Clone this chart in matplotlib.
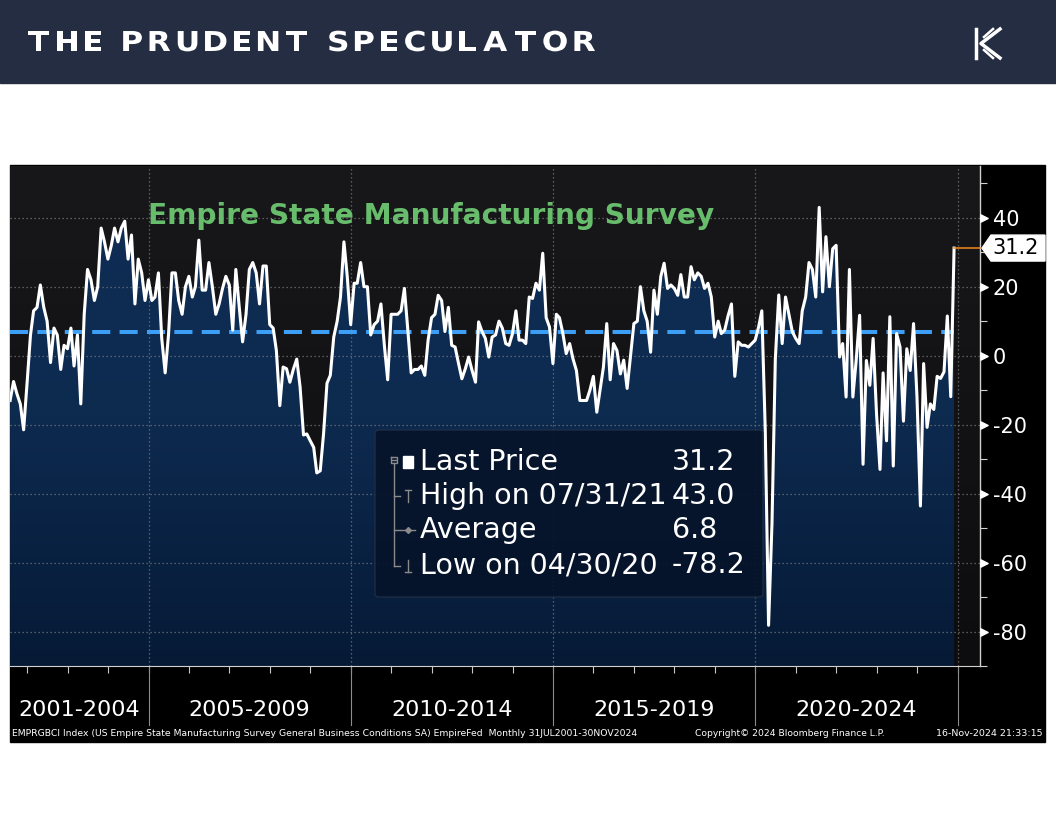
import numpy as np
import pandas as pd
import matplotlib
matplotlib.use("Agg")
import matplotlib.pyplot as plt
import matplotlib.dates as mdates
from matplotlib.patches import Rectangle, Polygon, FancyBboxPatch, PathPatch
from matplotlib.lines import Line2D
from matplotlib.colors import LinearSegmentedColormap
from matplotlib.transforms import blended_transform_factory, Affine2D
from matplotlib.font_manager import FontProperties
from matplotlib.textpath import TextPath

plt.rcParams['axes.unicode_minus'] = False
plt.rcParams['font.family'] = 'DejaVu Sans'

# Empire State general business conditions, monthly Jul 2001 .. Nov 2024
index_values = [
    -13, -7.5, -11, -14, -21.5, -8, 6, 13, 14, 20.5, 14, 10,             # 2001-07 .. 2002-06
    -2, 8, 6, -4, 3, 2, 8, -3, 6, -14, 12, 25,                          # 2002-07 .. 2003-06
    22, 16, 20, 37, 33, 28, 32, 37, 33, 37, 39, 28,                     # 2003-07 .. 2004-06
    35, 15, 28, 24, 16, 22, 16, 17, 24, 5, -5, 6,                       # 2004-07 .. 2005-06
    24, 24, 16, 12, 20, 23, 17, 20, 33.5, 19, 19, 27,                   # 2005-07 .. 2006-06
    20, 12, 15, 19.5, 23, 20.5, 7.4, 25, 14, 4, 12, 25,                 # 2006-07 .. 2007-06
    27, 24, 15, 26, 26, 9, 8, 1.5, -14.5, -3.3, -3.8, -7.7,             # 2007-07 .. 2008-06
    -4, -1, -9, -23, -22.7, -24.7, -26.6, -34, -33.4, -22.7, -8, -5.7,  # 2008-07 .. 2009-06
    5.4, 10, 17, 33, 23, 9, 21, 21, 27, 20, 20, 6,                      # 2009-07 .. 2010-06
    9, 10, 15, 3, -7, 12, 12, 12, 13, 19.5, 7.4, -5,                    # 2010-07 .. 2011-06
    -4, -4, -3, -5.7, 4.5, 11, 12, 17.5, 16, 7, 14, 3,                  # 2011-07 .. 2012-06
    2.5, -2.3, -6.7, -3.8, -0.4, -4.3, -7.7, 9.8, 7, 5, -0.4, 5.4,      # 2012-07 .. 2013-06
    6, 10, 8, 3.5, 3, 6.4, 13, 4.5, 4.5, 3.5, 17, 16.6,                 # 2013-07 .. 2014-06
    21, 19, 29.7, 11, 8.3, -2.3, 12, 11, 6.4, 0.6, 3.5, -0.9,           # 2014-07 .. 2015-06
    -4.3, -13, -13, -13, -10, -6, -16.4, -10, -3.3, 9.3, -7, 3.5,       # 2015-07 .. 2016-06
    1.5, -5.3, -1.3, -9.5, -0.4, 9.3, 10, 20, 13, 10, 1, 19,            # 2016-07 .. 2017-06
    12, 23, 26.8, 19.5, 20.5, 19.5, 17.5, 23.5, 17, 17, 25.8, 22,       # 2017-07 .. 2018-06
    24, 23, 19.5, 21, 17, 5.4, 10, 6.4, 7.4, 11.5, 15, -6,              # 2018-07 .. 2019-06
    4, 3, 3, 2.5, 3.5, 4.5, 8.3, 13, -21.5, -78.2, -48.5, -1,           # 2019-07 .. 2020-06
    17.6, 3.5, 17, 12, 7, 5, 3.5, 13, 17, 27, 25, 17,                   # 2020-07 .. 2021-06
    43, 18.5, 34.5, 20, 31, 32, -0.4, 3.5, -12, 25, -12, -1.4,          # 2021-07 .. 2022-06
    11.7, -31.5, -1.4, -8.6, 5, -17, -33, -5, -24.7, 11.3, -32, 6.4,    # 2022-07 .. 2023-06
    2.5, -19, 2, -4.3, 9.3, -12, -43.6, -2.3, -20.8, -14, -15.6, -6,    # 2023-07 .. 2024-06
    -6.6, -4.7, 11.5, -11.9, 31.2,                                      # 2024-07 .. 2024-11
]
dates = pd.date_range('2001-07-31', periods=len(index_values), freq='ME')

last_value = 31.2
high_value = 43.0
avg_value = 6.8
low_value = -78.2

period_labels = ['2001-2004', '2005-2009', '2010-2014', '2015-2019', '2020-2024']
period_bounds = ['2001-07-31', '2005-01-01', '2010-01-01', '2015-01-01', '2020-01-01', '2025-01-01']
y_major = [-80, -60, -40, -20, 0, 20, 40]

legend_labels = ['Last Price', 'High on 07/31/21', 'Average', 'Low on 04/30/20']
legend_values = [last_value, high_value, avg_value, low_value]

W, H = 1056, 816


def fx(px):
    return px / W


def fy(py):
    return 1 - py / H


fig = plt.figure(figsize=(W / 100, H / 100), dpi=100)
fig.patch.set_facecolor('white')

# header bar + black chart panel
fig.add_artist(Rectangle((0, fy(83)), 1, 83 / H, transform=fig.transFigure,
                         color='#252d42', zorder=0))
fig.add_artist(Rectangle((fx(10), fy(742)), fx(1035), 577 / H, transform=fig.transFigure,
                         color='black', zorder=0))

ax = fig.add_axes([fx(10), fy(666), fx(970), 500 / H])
ax.set_facecolor('none')

xnum = mdates.date2num(dates)
bounds = mdates.date2num(pd.to_datetime(period_bounds))
xl0 = mdates.date2num(pd.Timestamp('2001-07-30'))
xl1 = mdates.date2num(pd.Timestamp('2025-07-22'))
ylo, yhi = -90, 55

# backgrounds
grad = np.linspace(0, 1, 256).reshape(-1, 1)
bg_cmap = LinearSegmentedColormap.from_list('bg', ['#0d0d10', '#18181b'])
ax.imshow(grad, extent=(xl0, xl1, ylo, yhi), origin='lower', cmap=bg_cmap,
          aspect='auto', zorder=0)
fill_cmap = LinearSegmentedColormap.from_list('fill', ['#061a36', '#0d2a4f', '#102e56'])
fill = ax.fill_between(xnum, index_values, ylo, facecolor='none', edgecolor='none')
im = ax.imshow(grad, extent=(xnum[0], xnum[-1], ylo, yhi), origin='lower', cmap=fill_cmap,
               aspect='auto', zorder=1)
im.set_clip_path(fill.get_paths()[0], transform=ax.transData)

# grid
for y in y_major:
    ax.axhline(y, color='#727272', lw=0.9, ls=(0, (1, 2.2)), zorder=2)
for b in bounds[1:]:
    ax.axvline(b, color='#727272', lw=0.9, ls=(0, (1, 2.2)), zorder=2)

# average + series
ax.plot([xnum[0], xnum[-1]], [avg_value, avg_value], color='#3d9ef5', lw=2.9,
        dashes=(4.5, 2.3), zorder=3)
ax.plot(xnum, index_values, color='white', lw=2.2, zorder=4)
ax.plot([xnum[-1], xl1], [last_value, last_value], color='#f08c1a', lw=1.1,
        zorder=4, clip_on=False)

ax.set_xlim(xl0, xl1)
ax.set_ylim(ylo, yhi)

for side in ['left', 'top']:
    ax.spines[side].set_visible(False)
ax.spines['right'].set_color('#d0d0d0')
ax.spines['right'].set_linewidth(1.0)
ax.spines['bottom'].set_color('#d0d0d0')
ax.spines['bottom'].set_linewidth(0.8)

# y axis on the right
ax.yaxis.tick_right()
ax.set_yticks(y_major)
ax.set_yticklabels([str(v) for v in y_major])
ax.set_yticks(range(-90, 51, 10), minor=True)
ax.tick_params(axis='y', which='major', length=0, pad=9, labelsize=15, labelcolor='white')
ax.tick_params(axis='y', which='minor', length=5, width=0.8, color='#d0d0d0')
bt = blended_transform_factory(ax.transAxes, ax.transData)
ax.scatter([1.004] * len(y_major), y_major, transform=bt, marker='>', s=28,
           color='white', clip_on=False, zorder=6)

# x axis: yearly ticks, period labels, separators
years = mdates.date2num(pd.date_range('2002-01-01', '2025-01-01', freq='YS'))
ax.set_xticks([])
ax.set_xticks(years, minor=True)
ax.tick_params(axis='x', which='minor', length=5, width=0.8, color='#c8c8c8')
xt = blended_transform_factory(ax.transData, ax.transAxes)
for i, lab in enumerate(period_labels):
    c = (bounds[i] + bounds[i + 1]) / 2
    ax.text(c, -0.088, lab, transform=xt, ha='center', va='center', color='white', fontsize=16)
for b in bounds[1:]:
    ax.plot([b, b], [0, -0.118], transform=xt, color='#8c8c8c', lw=0.8, clip_on=False)

# chart title
fig.text(fx(148), fy(216), 'Empire State Manufacturing Survey', color='#68bd6c',
         fontsize=20.2, fontweight='bold', va='center')

# legend box
fig.add_artist(FancyBboxPatch((fx(375), fy(597)), fx(388), 167 / H,
                              boxstyle='round,pad=0,rounding_size=0.004',
                              transform=fig.transFigure, fc='#06142a', ec='#1f2e44',
                              lw=1, alpha=0.93, zorder=5))
row_y = [462, 496, 530, 565]
for lab, val, ry in zip(legend_labels, legend_values, row_y):
    fig.text(fx(420), fy(ry), lab, color='white', fontsize=20.5, va='center', zorder=6)
    fig.text(fx(672), fy(ry), f'{val:.1f}', color='white', fontsize=20.5, va='center', zorder=6)


def pline(xs, ys, color='#8a8a8a', lw=1):
    fig.add_artist(Line2D([fx(v) for v in xs], [fy(v) for v in ys], color=color, lw=lw,
                          transform=fig.transFigure, zorder=6))


fig.add_artist(Rectangle((fx(403), fy(468)), fx(10), 12 / H, transform=fig.transFigure,
                         color='white', zorder=6))
pline([391, 397, 397, 391, 391], [457, 457, 463, 463, 457])
pline([392, 396], [460, 460])
pline([394, 394], [463, 566])
pline([394, 400], [496, 496])
pline([394, 400], [530, 530])
pline([394, 400], [566, 566])
pline([405, 411], [490, 490])
pline([408, 408], [490, 502])
pline([401, 415], [530, 530])
fig.add_artist(Line2D([fx(408)], [fy(530)], marker='D', ms=3, color='#8a8a8a',
                      transform=fig.transFigure, zorder=6))
pline([408, 408], [560, 572])
pline([405, 411], [572, 572])

# last value tag
fig.canvas.draw()
px, py = ax.transData.transform((xl1, last_value))
tag = [(px + 2, py), (px + 11, py + 13), (1045, py + 13), (1045, py - 13), (px + 11, py - 13)]
fig.add_artist(Polygon([(a / W, b / H) for a, b in tag], closed=True, transform=fig.transFigure,
                       fc='white', ec='white', zorder=7))
fig.text((px + 12) / W, py / H, f'{last_value:.1f}', color='black', fontsize=15,
         va='center', ha='left', zorder=8)

# footer
fig.text(fx(12), fy(734), 'EMPRGBCI Index (US Empire State Manufacturing Survey General Business '
         'Conditions SA) EmpireFed  Monthly 31JUL2001-30NOV2024', color='white', fontsize=6.7,
         va='center')
fig.text(fx(695), fy(734), 'Copyright\u00a9 2024 Bloomberg Finance L.P.', color='white',
         fontsize=6.6, va='center')
fig.text(fx(1043), fy(734), '16-Nov-2024 21:33:15', color='white', fontsize=6.8,
         va='center', ha='right')

# header text: stretched bold glyphs with letter spacing
header = 'THE PRUDENT SPECULATOR'
fp = FontProperties(family='DejaVu Sans', weight='bold')
size_px = 27.4
stretch = 1.14
space_w = 7
glyphs = [None if c == ' ' else TextPath((0, 0), c, size=size_px, prop=fp) for c in header]
widths = [space_w if g is None else g.get_extents().width * stretch for g in glyphs]
gap = (567 - sum(widths)) / (len(header) - 1)
cx = 28
base_y = H - 51
for g, w in zip(glyphs, widths):
    if g is not None:
        x0 = g.get_extents().x0
        tr = Affine2D().translate(-x0, 0).scale(stretch, 1).translate(cx, base_y)
        fig.add_artist(PathPatch(g, transform=tr, fc='white', ec='none', zorder=3))
    cx += w + gap

# logo
pline([976, 976], [29, 58], color='white', lw=2.5)
pline([1000, 981, 1000], [29, 43.5, 58], color='white', lw=2.5)
pline([993, 984], [29, 37], color='white', lw=1.8)
pline([993, 984], [58, 50], color='white', lw=1.8)

fig.savefig('out.png', dpi=100, facecolor=fig.get_facecolor())
